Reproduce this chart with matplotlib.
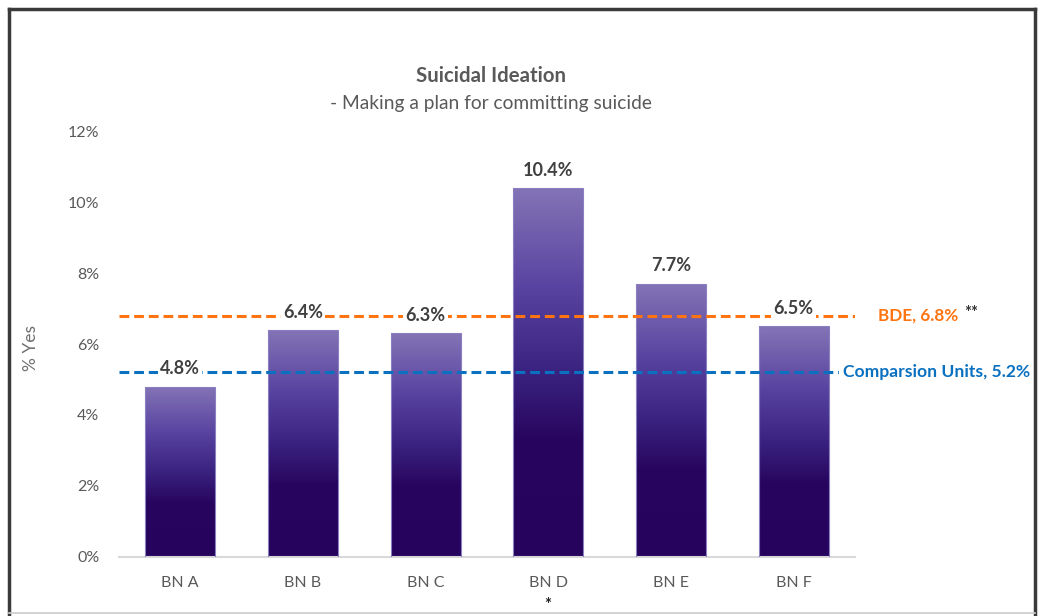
import numpy as np
import matplotlib
matplotlib.use('Agg')
from matplotlib import pyplot as plt
from matplotlib.colors import LinearSegmentedColormap
from matplotlib.lines import Line2D

units = ['BN A', 'BN B', 'BN C', 'BN D', 'BN E', 'BN F']
pct_yes = [4.8, 6.4, 6.3, 10.4, 7.7, 6.5]
bde_value = 6.8
comparison_value = 5.2
yticks = [0, 2, 4, 6, 8, 10, 12]

plt.rcParams['font.family'] = ['Lato', 'DejaVu Sans']

grey = '#595959'
orange = '#FF7410'
blue = '#0A70C0'

# gradient for the bars: dark at bottom, lavender at top
cmap = LinearSegmentedColormap.from_list('purp', [
    (0.0, '#26045E'), (0.32, '#28065F'), (0.5, '#3A2280'),
    (0.72, '#5742A0'), (1.0, '#8474B6')])

fig = plt.figure(figsize=(10.38, 6.16), dpi=100)
ax = fig.add_axes([0.1146, 0.0958, 0.7091, 0.6915])

x = np.arange(len(units))
bars = ax.bar(x, pct_yes, width=0.57, facecolor='none',
              edgecolor='#8A7FC0', linewidth=0.8, zorder=3)
grad = np.linspace(0, 1, 256).reshape(-1, 1)
for b in bars:
    x0, y0 = b.get_x(), b.get_y()
    w, h = b.get_width(), b.get_height()
    im = ax.imshow(grad, cmap=cmap, origin='lower', aspect='auto',
                   extent=[x0, x0 + w, y0, y0 + h], zorder=2)
    im.set_clip_path(b)

ax.axhline(bde_value, color=orange, lw=2.2, ls=(0, (3.2, 1.6)), zorder=4)
ax.axhline(comparison_value, color=blue, lw=2.2, ls=(0, (3.2, 1.6)), zorder=4)

for xi, v in zip(x, pct_yes):
    ax.text(xi, v + 0.26, f'{v:.1f}%', ha='center', va='bottom',
            fontsize=13, fontweight='bold', color='#404040', zorder=5,
            bbox=dict(facecolor='white', edgecolor='none', pad=1.5))

bde_txt = ax.text(len(units) - 0.5 + 0.19, bde_value, f'BDE, {bde_value}%', color=orange,
                  fontsize=12.3, fontweight='bold', va='center', ha='left', zorder=5,
                  bbox=dict(facecolor='white', edgecolor='none', pad=2), clip_on=False)
ax.annotate('**', xy=(1, 0.5), xycoords=bde_txt, xytext=(4, 2),
            textcoords='offset points', color='#303030', fontsize=12,
            fontweight='bold', va='center', ha='left', annotation_clip=False)
ax.text(len(units) - 0.5 - 0.1, comparison_value, f'Comparsion Units, {comparison_value}%',
        color=blue, fontsize=12.6, fontweight='bold', va='center', ha='left',
        zorder=5, bbox=dict(facecolor='white', edgecolor='none', pad=3),
        clip_on=False)

ax.set_xlim(-0.5, len(units) - 0.5)
ax.set_ylim(0, 12)
ax.set_xticks(x)
ax.set_xticklabels(units)
ax.set_yticks(yticks)
ax.set_yticklabels([f'{t}%' for t in yticks])
ax.tick_params(length=0, colors=grey, labelsize=11.5)
ax.tick_params(axis='x', pad=14)
ax.tick_params(axis='y', pad=14)
for s in ['top', 'right', 'left']:
    ax.spines[s].set_visible(False)
ax.spines['bottom'].set_color('#D9D9D9')
ax.spines['bottom'].set_linewidth(1.5)
ax.set_ylabel('% Yes', color='#707070', fontsize=12.5)
ax.yaxis.set_label_coords(-0.108, 0.49)

fig.text(0.473, 0.876, 'Suicidal Ideation', ha='center', va='center',
         fontsize=14.7, fontweight='bold', color=grey)
fig.text(0.473, 0.832, '- Making a plan for committing suicide', ha='center',
         va='center', fontsize=13.8, color=grey)
fig.text(0.528, 0.018, '*', ha='center', va='center', fontsize=12,
         fontweight='bold', color='#222222')

# frame like the screenshot
fig.add_artist(Line2D([9 / 1038, 9 / 1038], [0, 1 - 9 / 616], color='#3A3A3A', lw=2.5))
fig.add_artist(Line2D([9 / 1038, 1035 / 1038], [1 - 9 / 616, 1 - 9 / 616], color='#3A3A3A', lw=2.5))
fig.add_artist(Line2D([1035 / 1038, 1035 / 1038], [0, 1 - 9 / 616], color='#3A3A3A', lw=2.5))
fig.add_artist(Line2D([9 / 1038, 1035 / 1038], [3 / 616, 3 / 616], color='#CCCCCC', lw=1.2))

fig.savefig('out.png', dpi=100)
